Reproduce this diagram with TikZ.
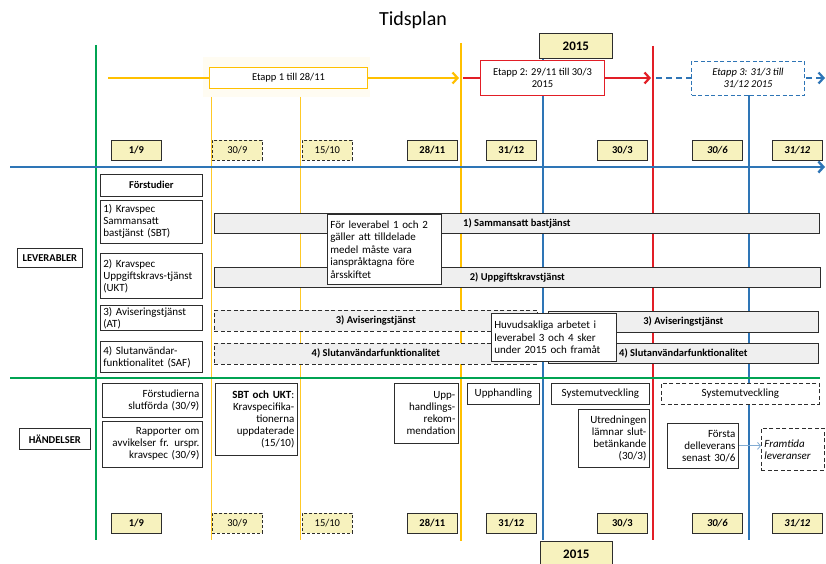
\documentclass[tikz,border=0pt]{standalone}
\usepackage{fontspec}
\setmainfont{Carlito}
\usetikzlibrary{arrows.meta}
\definecolor{tlgreen}{RGB}{0,163,82}
\definecolor{tlyellow}{RGB}{255,192,0}
\definecolor{tlred}{RGB}{226,30,38}
\definecolor{tlblue}{RGB}{46,117,182}
\definecolor{datefill}{RGB}{247,242,190}
\definecolor{barfill}{RGB}{239,239,239}
\definecolor{edge}{RGB}{45,45,45}
\newcommand\boxfont{\fontsize{11}{12}\selectfont}
\newcommand\headfont{\fontsize{10.5}{12}\selectfont\bfseries}
\newcommand\phasefont{\fontsize{10.5}{12}\selectfont}
\begin{document}
\begin{tikzpicture}[x=1pt,y=-1pt,
  box/.style={draw=edge, line width=0.7pt, fill=white, anchor=north west,
    inner xsep=3pt, inner ysep=1pt, font=\boxfont},
  lbox/.style={box, align=left},
  rbox/.style={box, align=right},
  datebox/.style={box, fill=datefill, minimum width=50pt, minimum height=20pt,
    font=\headfont},
  datedash/.style={datebox, dash pattern=on 3pt off 2pt, font=\phasefont},
  dateital/.style={datebox, font=\headfont\itshape},
  bar/.style={box, fill=barfill, minimum height=20pt, font=\headfont},
  dashbar/.style={bar, dash pattern=on 4pt off 2.5pt},
  vline/.style={line width=2.6pt},
  thinv/.style={tlyellow!85, line width=0.9pt},
  withhead/.style={-{Straight Barb[length=5pt,width=11pt]}}]
\useasboundingbox (0,0) rectangle (826,564);
\clip (0,0) rectangle (826,564);
\fill[white] (0,0) rectangle (826,564);

% title
\node[font=\fontsize{20}{24}\selectfont] (title) at (413,20) {Tidsplan};

% faint halo behind phase 1 label
\fill[tlyellow!5] (203,57) rectangle (370,97);

% vertical milestone lines
\draw[tlgreen, vline] (96,45) -- (96,540);
\draw[thinv] (211,97) -- (211,540);
\draw[thinv] (300,97) -- (300,540);
\draw[tlyellow, vline] (461,43) -- (461,541);
\draw[tlblue, vline] (543,58) -- (543,540);
\draw[tlred, vline] (653,46) -- (653,540);
\draw[tlblue, vline] (749,95) -- (749,540);

% time axis and section divider
\draw[tlblue, line width=2.4pt, withhead] (10,167) -- (825,167);
\draw[tlgreen, vline] (10,378) -- (820,378);

% phase arrows
\draw[tlyellow, line width=2.2pt, withhead] (108,78) -- (459,78);
\draw[tlred, line width=2.2pt, withhead] (463,78) -- (651,78);
\draw[tlblue, line width=2.2pt, dash pattern=on 6pt off 4pt, withhead] (656,78) -- (825,78);

% phase labels
\node[box, draw=tlyellow, line width=1pt, minimum width=158pt, minimum height=21pt, font=\phasefont]
  (et1) at (209,67) {Etapp 1 till 28/11};
\node[box, draw=tlred, line width=1pt, minimum width=124pt, minimum height=35pt, align=center,
  font=\phasefont] (et2) at (480,60) {Etapp 2: 29/11 till 30/3\\2015};
\node[box, draw=tlblue, dash pattern=on 4pt off 2.5pt, line width=1pt, minimum width=113pt,
  minimum height=34pt, align=center, font=\phasefont\itshape]
  (et3) at (691,61) {Etapp 3: 31/3 till\\31/12 2015};
\node[datebox, minimum width=73pt, minimum height=25pt, font=\fontsize{13}{15}\selectfont\bfseries]
  (yrtop) at (539,33) {2015};

% dates, upper row
\node[datebox] (dt1) at (111,140) {1/9};
\node[datedash] (dt2) at (212,140) {30/9};
\node[datedash] (dt3) at (302,140) {15/10};
\node[datebox] (dt4) at (407,140) {28/11};
\node[datebox] (dt5) at (486,140) {31/12};
\node[datebox] (dt6) at (597,140) {30/3};
\node[dateital] (dt7) at (692,140) {30/6};
\node[dateital] (dt8) at (772,140) {31/12};

% dates, lower row
\node[datebox] (db1) at (111,513) {1/9};
\node[datedash] (db2) at (212,513) {30/9};
\node[datedash] (db3) at (302,513) {15/10};
\node[datebox] (db4) at (407,513) {28/11};
\node[datebox] (db5) at (486,513) {31/12};
\node[datebox] (db6) at (597,513) {30/3};
\node[dateital] (db7) at (692,513) {30/6};
\node[dateital] (db8) at (772,513) {31/12};
\node[datebox, minimum width=72pt, minimum height=26pt, font=\fontsize{13}{15}\selectfont\bfseries]
  (yrbot) at (540,541) {2015};

% section headings
\node[box, minimum width=65pt, minimum height=19pt, font=\headfont] (lev) at (17,248) {LEVERABLER};
\node[box, minimum width=71pt, minimum height=21pt, font=\headfont] (hand) at (19,428) {HÄNDELSER};

% deliverables, left column
\node[box, minimum width=102pt, minimum height=22pt, font=\headfont] (fst) at (100,174) {Förstudier};
\node[lbox, text width=96pt, minimum height=43pt] (k1) at (100,200) {1) Kravspec\\Sammansatt\\bastjänst (SBT)};
\node[lbox, text width=96pt, minimum height=45pt] (k2) at (100,253) {2) Kravspec\\Uppgiftskravs-tjänst\\(UKT)};
\node[lbox, text width=96pt, minimum height=25pt] (k3) at (100,305) {3) Aviseringstjänst\\(AT)};
\node[lbox, text width=96pt, minimum height=31pt] (k4) at (100,341) {4) Slutanvändar-\\funktionalitet (SAF)};

% deliverable bars
\node[bar, minimum width=605pt] (b1) at (214,213) {1) Sammansatt bastjänst};
\node[bar, minimum width=606pt] (b2) at (214,267) {2) Uppgiftskravstjänst};
\node[dashbar, minimum width=323pt, minimum height=21pt] (b3a) at (214,310) {3) Aviseringstjänst};
\node[dashbar, minimum width=323pt, minimum height=21pt] (b4a) at (214,343) {4) Slutanvändarfunktionalitet};
\node[bar, minimum width=270pt, minimum height=21pt] (b3b) at (548,311) {3) Aviseringstjänst};
\node[bar, minimum width=270pt] (b4b) at (548,343) {4) Slutanvändarfunktionalitet};

% notes over the bars
\node[lbox, text width=108pt, minimum height=70pt, font=\fontsize{11}{12.5}\selectfont] (nA) at (327,214)
  {För leverabel 1 och 2\\gäller att tilldelade\\medel måste vara\\ianspråktagna före\\årsskiftet};
\node[lbox, text width=119pt, minimum height=48pt, font=\fontsize{11}{12.5}\selectfont] (nB) at (491,313)
  {Huvudsakliga arbetet i\\leverabel 3 och 4 sker\\under 2015 och framåt};

% events
\node[rbox, text width=94pt, minimum height=34pt] (e1) at (102,383) {Förstudierna\\slutförda (30/9)};
\node[rbox, text width=94pt, minimum height=46pt] (e2) at (102,421) {Rapporter om\\avvikelser fr. urspr.\\kravspec (30/9)};
\node[rbox, text width=76pt, minimum height=72pt] (e3) at (215,383)
  {\textbf{SBT och UKT}:\\Kravspecifika-\\tionerna\\uppdaterade\\(15/10)};
\node[rbox, text width=58pt, minimum height=60pt] (e4) at (394,383) {Upp-\\handlings-\\rekom-\\mendation};
\node[box, minimum width=72pt, minimum height=21pt] (e5) at (467,383) {Upphandling};
\node[box, minimum width=98pt, minimum height=21pt] (e6) at (551,383) {Systemutveckling};
\node[box, dash pattern=on 4pt off 2.5pt, minimum width=158pt, minimum height=21pt] (e7) at (661,383) {Systemutveckling};
\node[rbox, text width=65pt, minimum height=58pt] (e8) at (578,409) {Utredningen\\lämnar slut-\\betänkande\\(30/3)};
\node[rbox, text width=65pt, minimum height=45pt] (e9) at (667,423) {Första\\delleverans\\senast 30/6};
\node[lbox, dash pattern=on 4pt off 2.5pt, text width=57pt, minimum height=42pt, font=\boxfont\itshape]
  (e10) at (761,428) {Framtida\\leveranser};
\draw[tlblue!60, line width=0.8pt, -{Straight Barb[length=3pt,width=7pt]}] (e9.east) -- (e9.east -| e10.west);
\end{tikzpicture}
\end{document}
